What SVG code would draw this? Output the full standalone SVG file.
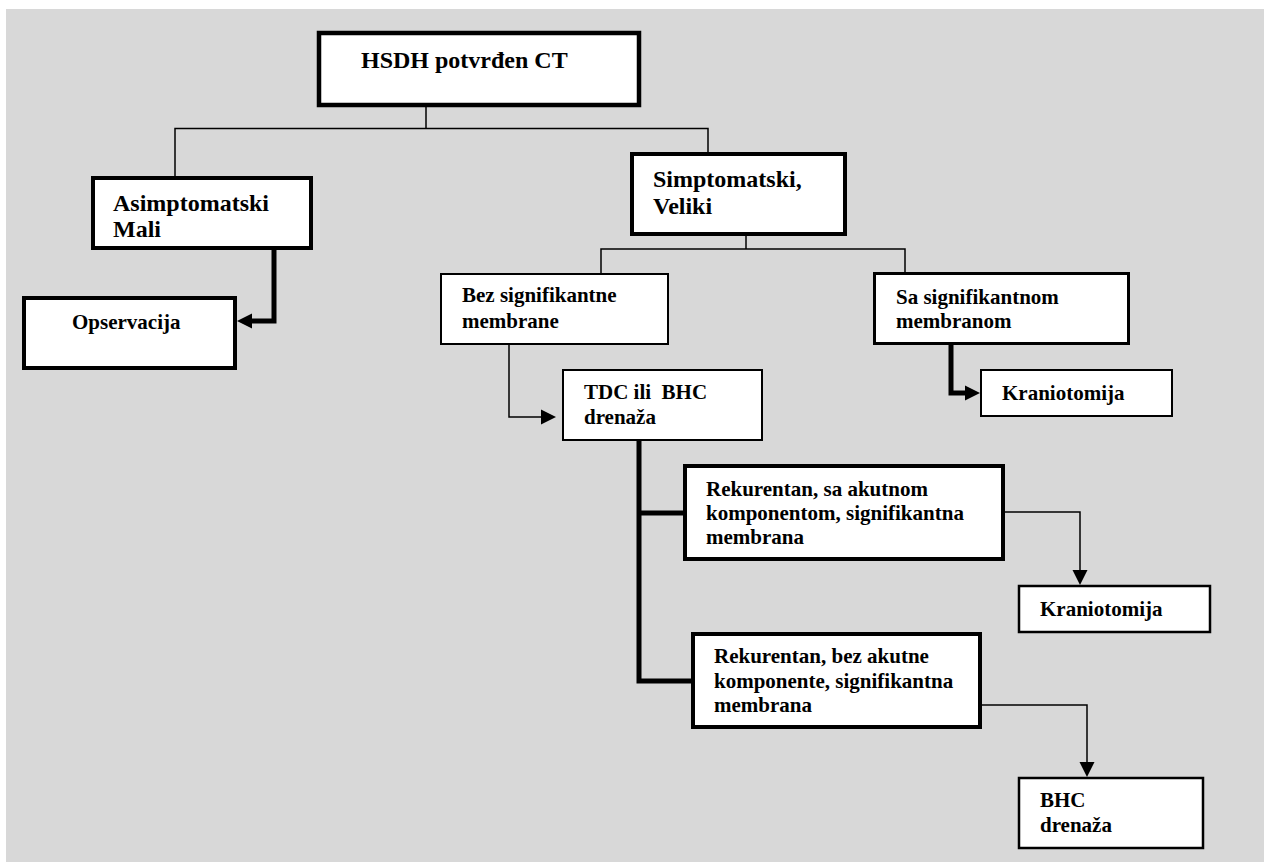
<svg xmlns="http://www.w3.org/2000/svg" width="1264" height="862" viewBox="0 0 1264 862">
<style>
.bg{fill:#d8d8d8}
.box{fill:#fff;stroke:#000}
.t{font-family:"Liberation Serif","Times New Roman",serif;font-weight:bold;fill:#000}
.big{font-size:24px}
.sm{font-size:21px}
.thin{fill:none;stroke:#000;stroke-width:1.5}
.thick{fill:none;stroke:#000;stroke-width:5}
</style>
<defs>
<marker id="ah" markerUnits="userSpaceOnUse" markerWidth="16" markerHeight="16" refX="0" refY="8" orient="auto" viewBox="0 0 16 16"><path d="M0,0.5 L15,8 L0,15.5 z" fill="#000"/></marker>
</defs>
<rect class="bg" x="6" y="9" width="1258" height="853"/>
<g id="connectors">
<path class="thin" d="M426,107 V128.5 M175,176 V128.5 H708 V152"/>
<path class="thin" d="M746,236 V249 M601,273 V249 H905 V272"/>
<path class="thick" d="M274,250 V321 H252" marker-end="url(#ah)"/>
<path class="thin" d="M509,345 V417 H541" marker-end="url(#ah)"/>
<path class="thick" d="M951,345 V393 H965" marker-end="url(#ah)"/>
<path class="thick" d="M639,441 V681 H691 M639,513 H683"/>
<path class="thin" d="M1005,512 H1080 V570" marker-end="url(#ah)"/>
<path class="thin" d="M982,705 H1087 V762" marker-end="url(#ah)"/>
</g>
<g id="n-hsdh"><rect class="box" x="319" y="33" width="320" height="72" stroke-width="4.5"/><text class="t big" x="361" y="68">HSDH potvrđen CT</text></g>
<g id="n-asim"><rect class="box" x="93" y="178" width="218" height="70" stroke-width="4"/><text class="t big" x="113" y="211">Asimptomatski</text><text class="t big" x="113" y="237">Mali</text></g>
<g id="n-opserv"><rect class="box" x="24" y="298" width="211" height="70" stroke-width="4"/><text class="t sm" x="72" y="329">Opservacija</text></g>
<g id="n-simpt"><rect class="box" x="632" y="154" width="213" height="80" stroke-width="4"/><text class="t big" x="653" y="187">Simptomatski,</text><text class="t big" x="653" y="214">Veliki</text></g>
<g id="n-bez"><rect class="box" x="441" y="274" width="227" height="70" stroke-width="2"/><text class="t sm" x="462" y="302">Bez signifikantne</text><text class="t sm" x="462" y="328">membrane</text></g>
<g id="n-sa"><rect class="box" x="874.5" y="273.5" width="254" height="70" stroke-width="3"/><text class="t sm" x="896" y="304">Sa signifikantnom</text><text class="t sm" x="896" y="328">membranom</text></g>
<g id="n-kranio1"><rect class="box" x="981" y="370" width="191" height="46" stroke-width="2"/><text class="t sm" x="1002" y="400">Kraniotomija</text></g>
<g id="n-tdc"><rect class="box" x="563" y="370" width="199" height="70" stroke-width="2"/><text class="t sm" x="584" y="399" xml:space="preserve">TDC ili  BHC</text><text class="t sm" x="584" y="424">drenaža</text></g>
<g id="n-reksa"><rect class="box" x="685" y="466" width="318" height="93" stroke-width="4"/><text class="t sm" x="706" y="496">Rekurentan, sa akutnom</text><text class="t sm" x="706" y="520">komponentom, signifikantna</text><text class="t sm" x="706" y="544">membrana</text></g>
<g id="n-rekbez"><rect class="box" x="693" y="634" width="287" height="93" stroke-width="4"/><text class="t sm" x="714" y="663">Rekurentan, bez akutne</text><text class="t sm" x="714" y="688">komponente, signifikantna</text><text class="t sm" x="714" y="712">membrana</text></g>
<g id="n-kranio2"><rect class="box" x="1019" y="586" width="191" height="46" stroke-width="2.5"/><text class="t sm" x="1040" y="616">Kraniotomija</text></g>
<g id="n-bhc"><rect class="box" x="1019" y="778" width="184" height="70" stroke-width="2.5"/><text class="t sm" x="1040" y="807">BHC</text><text class="t sm" x="1040" y="832">drenaža</text></g>
</svg>
